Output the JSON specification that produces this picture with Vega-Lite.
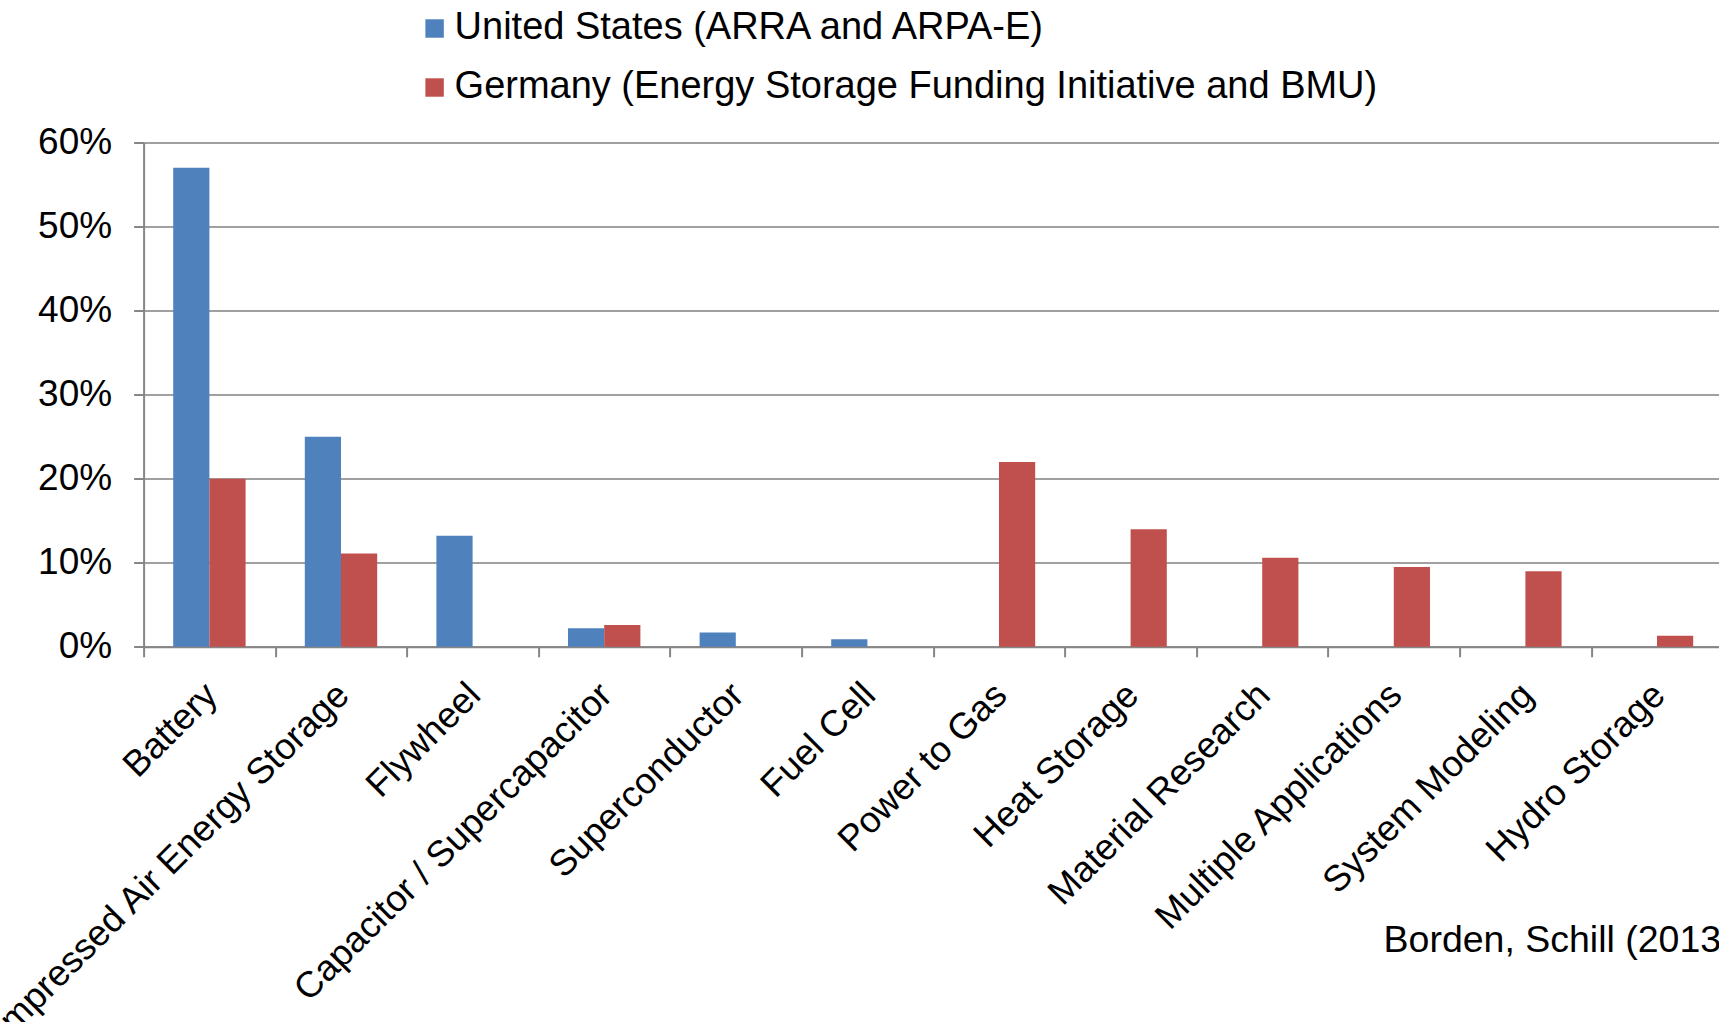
{
  "$schema": "https://vega.github.io/schema/vega-lite/v6.json",
  "autosize": {"type": "none"},
  "padding": {"left": 143.6, "top": 142.5, "right": 0, "bottom": 376},
  "width": 1579.2,
  "height": 504.3,
  "background": "white",
  "data": {
    "values": [
      {"category": "Battery", "country": "United States (ARRA and ARPA-E)", "value": 0.57},
      {"category": "Battery", "country": "Germany (Energy Storage Funding Initiative and BMU)", "value": 0.20},
      {"category": "Compressed Air Energy Storage", "country": "United States (ARRA and ARPA-E)", "value": 0.25},
      {"category": "Compressed Air Energy Storage", "country": "Germany (Energy Storage Funding Initiative and BMU)", "value": 0.111},
      {"category": "Flywheel", "country": "United States (ARRA and ARPA-E)", "value": 0.132},
      {"category": "Capacitor / Supercapacitor", "country": "United States (ARRA and ARPA-E)", "value": 0.022},
      {"category": "Capacitor / Supercapacitor", "country": "Germany (Energy Storage Funding Initiative and BMU)", "value": 0.026},
      {"category": "Superconductor", "country": "United States (ARRA and ARPA-E)", "value": 0.017},
      {"category": "Fuel Cell", "country": "United States (ARRA and ARPA-E)", "value": 0.009},
      {"category": "Power to Gas", "country": "Germany (Energy Storage Funding Initiative and BMU)", "value": 0.22},
      {"category": "Heat Storage", "country": "Germany (Energy Storage Funding Initiative and BMU)", "value": 0.14},
      {"category": "Material Research", "country": "Germany (Energy Storage Funding Initiative and BMU)", "value": 0.106},
      {"category": "Multiple Applications", "country": "Germany (Energy Storage Funding Initiative and BMU)", "value": 0.095},
      {"category": "System Modeling", "country": "Germany (Energy Storage Funding Initiative and BMU)", "value": 0.09},
      {"category": "Hydro Storage", "country": "Germany (Energy Storage Funding Initiative and BMU)", "value": 0.013}
    ]
  },
  "title": {
    "text": "Borden, Schill (2013)",
    "orient": "bottom",
    "anchor": "end",
    "fontSize": 37.5,
    "fontWeight": "normal",
    "font": "Liberation Sans",
    "color": "black",
    "offset": -152,
    "dx": 10
  },
  "mark": {"type": "bar"},
  "encoding": {
    "x": {
      "field": "category",
      "type": "nominal",
      "sort": ["Battery", "Compressed Air Energy Storage", "Flywheel", "Capacitor / Supercapacitor", "Superconductor", "Fuel Cell", "Power to Gas", "Heat Storage", "Material Research", "Multiple Applications", "System Modeling", "Hydro Storage"],
      "scale": {"paddingInner": 0, "paddingOuter": 0},
      "axis": {
        "title": null,
        "labelAngle": -45,
        "tickBand": "extent",
        "tickSize": 10,
        "tickWidth": 2,
        "tickColor": "#868686",
        "domainColor": "#868686",
        "domainWidth": 2,
        "labelPadding": 19.5,
        "labelOffset": -11,
        "labelFontSize": 36.5,
        "labelFont": "Liberation Sans",
        "labelColor": "black",
        "labelLimit": 1000,
        "labelOverlap": false,
        "grid": false
      }
    },
    "xOffset": {
      "field": "country",
      "type": "nominal",
      "sort": ["United States (ARRA and ARPA-E)", "Germany (Energy Storage Funding Initiative and BMU)"],
      "scale": {"paddingInner": 0, "paddingOuter": 0.818, "domain": ["United States (ARRA and ARPA-E)", "Germany (Energy Storage Funding Initiative and BMU)"]}
    },
    "y": {
      "field": "value",
      "type": "quantitative",
      "scale": {"domain": [0, 0.6], "nice": false},
      "axis": {
        "title": null,
        "format": ".0%",
        "values": [0, 0.1, 0.2, 0.3, 0.4, 0.5, 0.6],
        "tickSize": 10,
        "tickWidth": 2,
        "tickColor": "#868686",
        "domainColor": "#868686",
        "domainWidth": 2,
        "gridColor": "#A0A0A0",
        "gridWidth": 2,
        "labelPadding": 22,
        "labelFontSize": 37,
        "labelFont": "Liberation Sans",
        "labelColor": "black"
      }
    },
    "color": {
      "field": "country",
      "type": "nominal",
      "scale": {
        "domain": ["United States (ARRA and ARPA-E)", "Germany (Energy Storage Funding Initiative and BMU)"],
        "range": ["#4F81BD", "#C0504D"]
      },
      "legend": {
        "orient": "none",
        "legendX": 272,
        "legendY": -133,
        "direction": "vertical",
        "title": null,
        "symbolType": "square",
        "symbolSize": 340,
        "symbolStrokeWidth": 0,
        "labelFontSize": 38,
        "labelFont": "Liberation Sans",
        "labelColor": "black",
        "labelLimit": 1500,
        "labelOffset": 1,
        "rowPadding": 21
      }
    }
  },
  "config": {
    "view": {"stroke": null},
    "font": "Liberation Sans"
  }
}
